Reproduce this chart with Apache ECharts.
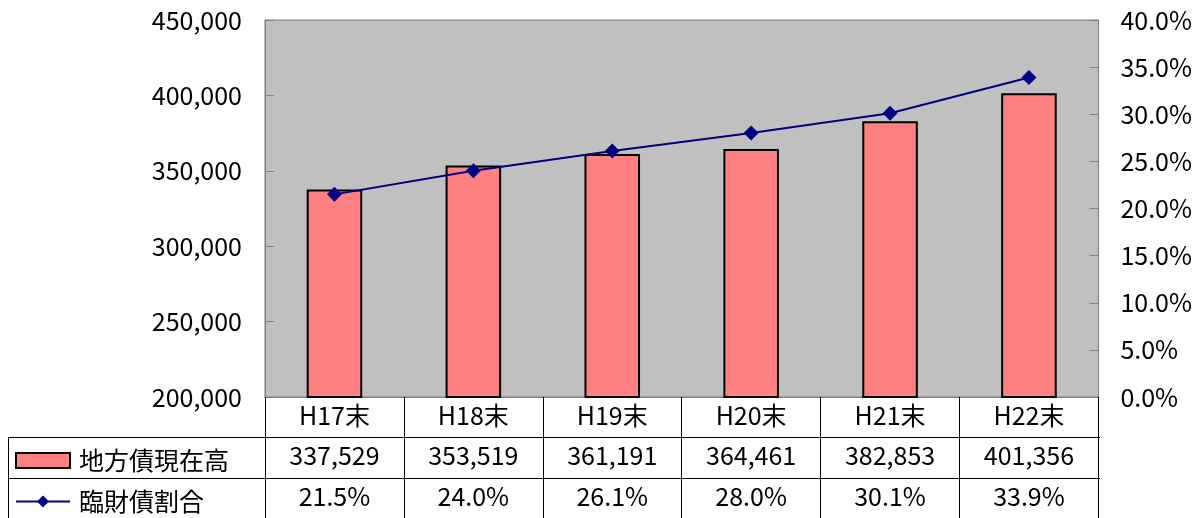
<!DOCTYPE html>
<html>
<head>
<meta charset="utf-8">
<script src="https://cdn.jsdelivr.net/npm/echarts@6/dist/echarts.min.js"></script>
<style>
  html, body { margin: 0; padding: 0; background: #fff; }
  #chart { width: 1195px; height: 518px; }
</style>
</head>
<body>
<div id="chart"></div>
<script>
// 年度
var categories = ['H17末', 'H18末', 'H19末', 'H20末', 'H21末', 'H22末'];
// 地方債現在高
var debt = [337529, 353519, 361191, 364461, 382853, 401356];
// 臨財債割合 (%)
var ratio = [21.5, 24.0, 26.1, 28.0, 30.1, 33.9];

var FONT = '"Noto Sans CJK JP", "Noto Sans", sans-serif';

function comma(v) {
  return String(v).replace(/\B(?=(\d{3})+(?!\d))/g, ',');
}

var myChart = echarts.init(document.getElementById('chart'));

var labelStyle = { color: '#000', fontSize: 25, fontFamily: FONT };

// 凡例は表の行見出しとして1行ずつ配置
function legendRow(name, top, icon) {
  return {
    orient: 'vertical',
    left: 10,
    top: top,
    itemWidth: 54,
    itemHeight: 15,
    itemGap: 0,
    textStyle: Object.assign({ padding: [0, 0, 0, 4] }, labelStyle),
    data: [icon ? { name: name, icon: icon } : name]
  };
}

var option = {
  backgroundColor: '#fff',
  animation: false,
  grid: {
    left: 265, right: 95, top: 20, bottom: 121,
    show: true,
    backgroundColor: '#c0c0c0',
    borderColor: '#808080',
    borderWidth: 1
  },
  legend: [
    legendRow('地方債現在高', 443, 'rect'),
    legendRow('臨財債割合', 484)
  ],
  xAxis: [
    {
      type: 'category',
      data: categories,
      position: 'bottom',
      axisLine: { lineStyle: { color: '#808080', width: 1 } },
      axisTick: { show: true, length: 121, lineStyle: { color: '#000', width: 1 } },
      axisLabel: Object.assign({ margin: 6 }, labelStyle)
    },
    {
      type: 'category',
      data: debt.map(comma),
      position: 'bottom',
      offset: 40,
      axisLine: { show: false },
      axisTick: { show: false },
      axisLabel: Object.assign({ margin: 6 }, labelStyle)
    },
    {
      type: 'category',
      data: ratio.map(function (v) { return v.toFixed(1) + '%'; }),
      position: 'bottom',
      offset: 81,
      axisLine: { show: false },
      axisTick: { show: false },
      axisLabel: Object.assign({ margin: 6 }, labelStyle)
    }
  ],
  yAxis: [
    {
      type: 'value',
      min: 200000, max: 450000, interval: 50000,
      axisLine: { show: true, lineStyle: { color: '#808080' } },
      axisTick: { show: true, inside: true, length: 9, lineStyle: { color: '#808080' } },
      splitLine: { show: false },
      axisLabel: Object.assign({ margin: 23, formatter: function (v) { return comma(v); } }, labelStyle)
    },
    {
      type: 'value',
      min: 0, max: 40, interval: 5,
      position: 'right',
      axisLine: { show: true, lineStyle: { color: '#808080' } },
      axisTick: { show: true, inside: true, length: 9, lineStyle: { color: '#808080' } },
      splitLine: { show: false },
      axisLabel: Object.assign({ margin: 22, formatter: function (v) { return v.toFixed(1) + '%'; } }, labelStyle)
    }
  ],
  series: [
    {
      name: '地方債現在高',
      type: 'bar',
      data: debt,
      barWidth: '40%',
      itemStyle: { color: '#ff8080', borderColor: '#000', borderWidth: 2 }
    },
    {
      name: '臨財債割合',
      type: 'line',
      yAxisIndex: 1,
      data: ratio,
      symbol: 'diamond',
      symbolSize: 15,
      lineStyle: { color: '#000080', width: 2 },
      itemStyle: { color: '#000080' }
    }
  ],
  graphic: [
    { type: 'line', shape: { x1: 8, y1: 437.5, x2: 1100, y2: 437.5 }, style: { stroke: '#000', lineWidth: 1 } },
    { type: 'line', shape: { x1: 8, y1: 478.5, x2: 1100, y2: 478.5 }, style: { stroke: '#000', lineWidth: 1 } },
    { type: 'line', shape: { x1: 8.5, y1: 437, x2: 8.5, y2: 518 }, style: { stroke: '#000', lineWidth: 1 } }
  ]
};

myChart.setOption(option);
</script>
</body>
</html>
